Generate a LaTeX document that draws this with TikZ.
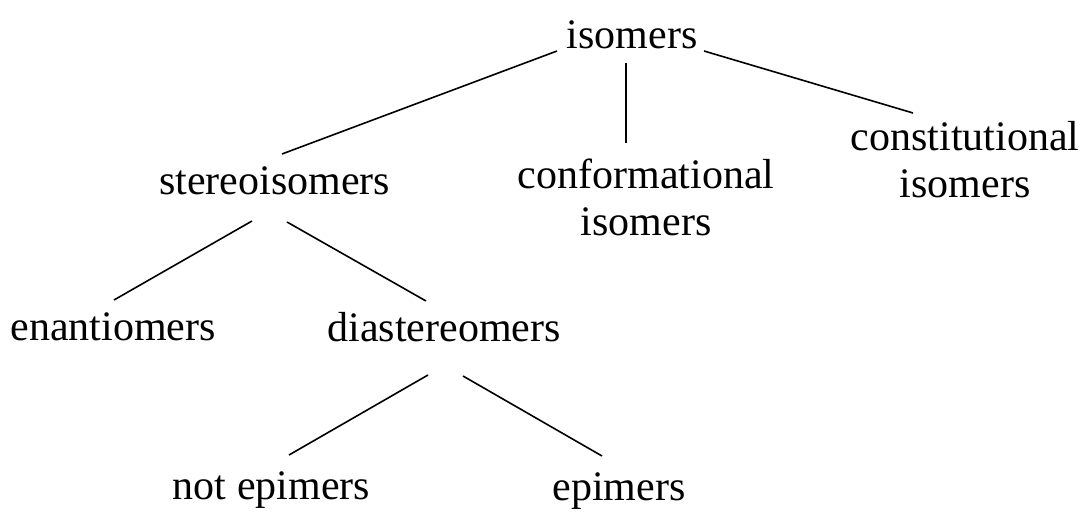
\documentclass[tikz,border=0pt]{standalone}
\usepackage{fontspec}
\setmainfont{Liberation Serif}
\usepackage{tikz}
\usetikzlibrary{positioning}

\begin{document}
\begin{tikzpicture}[
    x=1pt, y=-1pt,
    every node/.style={font=\fontsize{42}{47}\selectfont},
    term/.style={
        inner sep=0pt,
        anchor=base,
        align=center
    },
    link/.style={line width=1.6pt, color=black}
]
\useasboundingbox (0,0) rectangle (1089,522);

\node[term] (iso) at (632,48) {isomers};

\node[term] (stereo) at (274.5,194) {stereoisomers};
\node[term] (conf) at (646,235) {conformational\\isomers};
\node[term] (const) at (965,197) {constitutional\\isomers};

\node[term] (enant) at (113,340) {enantiomers};
\node[term] (diast) at (444,341) {diastereomers};

\node[term] (notepi) at (271.5,499) {not epimers};
\node[term] (epi) at (619,500) {epimers};

\draw[link] ([shift={(-75,3)}]iso.base) -- ([shift={(7.5,-40)}]stereo.base);
\draw[link] ([shift={(-6,15)}]iso.base) -- ([shift={(-20,-92)}]conf.base);
\draw[link] ([shift={(72,3)}]iso.base) -- ([shift={(-52,-84)}]const.base);

\draw[link] ([shift={(-22.5,27)}]stereo.base) -- ([shift={(1,-40)}]enant.base);
\draw[link] ([shift={(12.5,28)}]stereo.base) -- ([shift={(-18,-40)}]diast.base);

\draw[link] ([shift={(-16,34)}]diast.base) -- ([shift={(17.5,-44)}]notepi.base);
\draw[link] ([shift={(19,35)}]diast.base) -- ([shift={(-17,-44)}]epi.base);

\end{tikzpicture}
\end{document}
